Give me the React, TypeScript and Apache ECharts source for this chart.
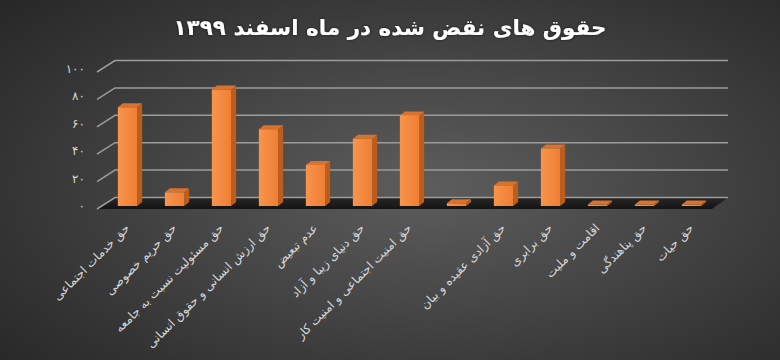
import React, { useEffect, useRef } from 'react';
import * as echarts from 'echarts';

const chartTitle = 'حقوق های نقض شده در ماه اسفند ۱۳۹۹';

const categories = [
  'حق خدمات اجتماعی',
  'حق حریم خصوصی',
  'حق مسئولیت نسبت به جامعه',
  'حق ارزش انسانی و حقوق انسانی',
  'عدم تبعیض',
  'حق دنیای زیبا و آزاد',
  'حق امنیت اجتماعی و امنیت کار',
  '',
  'حق آزادی عقیده و بیان',
  'حق برابری',
  'اقامت و ملیت',
  'حق پناهندگی',
  'حق حیات',
];

const violations = [72, 10, 85, 56, 30, 49, 66, 2, 15, 42, 0, 0, 0];

const yTicks = [0, 20, 40, 60, 80, 100];
const yTickLabels = ['۰', '۲۰', '۴۰', '۶۰', '۸۰', '۱۰۰'];

// pseudo-3D offsets (px) relative to the plane the bars stand on
const FRONT = { dx: -7, dy: 3 };
const BACK = { dx: 11, dy: -8.5 };
const BAR_DEPTH = { dx: 5, dy: -4 };

export default function App() {
  const ref = useRef<HTMLDivElement>(null);

  useEffect(() => {
    document.body.style.margin = '0';
    if (!ref.current) return;
    const chart = echarts.init(ref.current, undefined, { renderer: 'svg' });

    const frontGradient = new echarts.graphic.LinearGradient(0, 0, 1, 0, [
      { offset: 0, color: '#f8944c' },
      { offset: 1, color: '#ee7f34' },
    ]);

    const option: any = {
      animation: false,
      backgroundColor: 'transparent',
      title: {
        text: chartTitle,
        left: 'center',
        top: 11,
        textStyle: {
          color: '#ffffff',
          fontSize: 21.5,
          fontWeight: 'bold',
          fontFamily: 'DejaVu Sans',
          textShadowColor: 'rgba(0,0,0,0.6)',
          textShadowBlur: 3,
        },
      },
      grid: { left: 104, right: 65, top: 69, bottom: 154 },
      xAxis: {
        type: 'category',
        data: categories,
        axisLine: { show: false },
        axisTick: { show: false },
        axisLabel: {
          interval: 0,
          rotate: 45,
          margin: 20,
          color: '#d8d8d8',
          fontSize: 12,
          fontFamily: 'DejaVu Sans',
        },
      },
      yAxis: {
        type: 'value',
        min: 0,
        max: 100,
        interval: 20,
        splitLine: { show: false },
        axisLine: { show: false },
        axisTick: { show: false },
        axisLabel: {
          margin: 19,
          color: '#d8d8d8',
          fontSize: 12,
          fontFamily: 'DejaVu Sans',
          padding: [6, 0, 0, 0],
          formatter: (v: number) => yTickLabels[yTicks.indexOf(v)] ?? '',
        },
      },
      series: [
        {
          // chart floor
          type: 'custom',
          z: 1,
          silent: true,
          data: [[0, 0]],
          renderItem: (params: any, api: any) => {
            const cs = params.coordSys;
            const y0 = api.coord([0, 0])[1];
            const l = cs.x;
            const r = cs.x + cs.width;
            return {
              type: 'polygon',
              shape: {
                points: [
                  [l + FRONT.dx, y0 + FRONT.dy],
                  [r - 3, y0 + FRONT.dy],
                  [r + 13, y0 + BACK.dy],
                  [l + BACK.dx, y0 + BACK.dy],
                ],
              },
              style: {
                fill: new echarts.graphic.LinearGradient(0, 0, 0, 1, [
                  { offset: 0, color: '#262626' },
                  { offset: 1, color: '#141414' },
                ]),
              },
            };
          },
        },
        {
          // gridlines on side wall and back wall
          type: 'custom',
          z: 2,
          silent: true,
          data: yTicks.map((t) => [0, t]),
          renderItem: (params: any, api: any) => {
            const cs = params.coordSys;
            const y = api.coord([0, api.value(1)])[1];
            const l = cs.x;
            const r = cs.x + cs.width;
            return {
              type: 'polyline',
              shape: {
                points: [
                  [l + FRONT.dx, y + FRONT.dy],
                  [l + BACK.dx, y + BACK.dy],
                  [r + 13, y + BACK.dy],
                ],
              },
              style: { stroke: '#9c9c9c', lineWidth: 1.5, fill: null },
            };
          },
        },
        {
          // 3D bars
          type: 'custom',
          z: 3,
          data: violations.map((v, i) => [i, v]),
          renderItem: (params: any, api: any) => {
            const i = api.value(0);
            const v = api.value(1);
            const [cx, top] = api.coord([i, v]);
            const base = api.coord([i, 0])[1];
            const bw = api.size([1, 0])[0] * 0.41;
            const x0 = cx - bw / 2;
            const x1 = cx + bw / 2;
            const yTop = Math.min(top, base - 1.5);
            return {
              type: 'group',
              children: [
                {
                  type: 'polygon',
                  shape: {
                    points: [
                      [x1, yTop],
                      [x1 + BAR_DEPTH.dx, yTop + BAR_DEPTH.dy],
                      [x1 + BAR_DEPTH.dx, base + BAR_DEPTH.dy],
                      [x1, base],
                    ],
                  },
                  style: { fill: '#bd5d1d' },
                },
                {
                  type: 'polygon',
                  shape: {
                    points: [
                      [x0, yTop],
                      [x0 + BAR_DEPTH.dx, yTop + BAR_DEPTH.dy],
                      [x1 + BAR_DEPTH.dx, yTop + BAR_DEPTH.dy],
                      [x1, yTop],
                    ],
                  },
                  style: { fill: '#d8722d' },
                },
                {
                  type: 'rect',
                  shape: { x: x0, y: yTop, width: bw, height: base - yTop },
                  style: { fill: frontGradient },
                },
              ],
            };
          },
        },
      ],
    };

    chart.setOption(option);
    return () => chart.dispose();
  }, []);

  return (
    <div
      ref={ref}
      style={{
        width: 780,
        height: 360,
        background:
          'radial-gradient(ellipse 75% 80% at 55% 52%, #5d5d5d 0%, #474747 40%, #333333 75%, #262626 100%)',
      }}
    />
  );
}
